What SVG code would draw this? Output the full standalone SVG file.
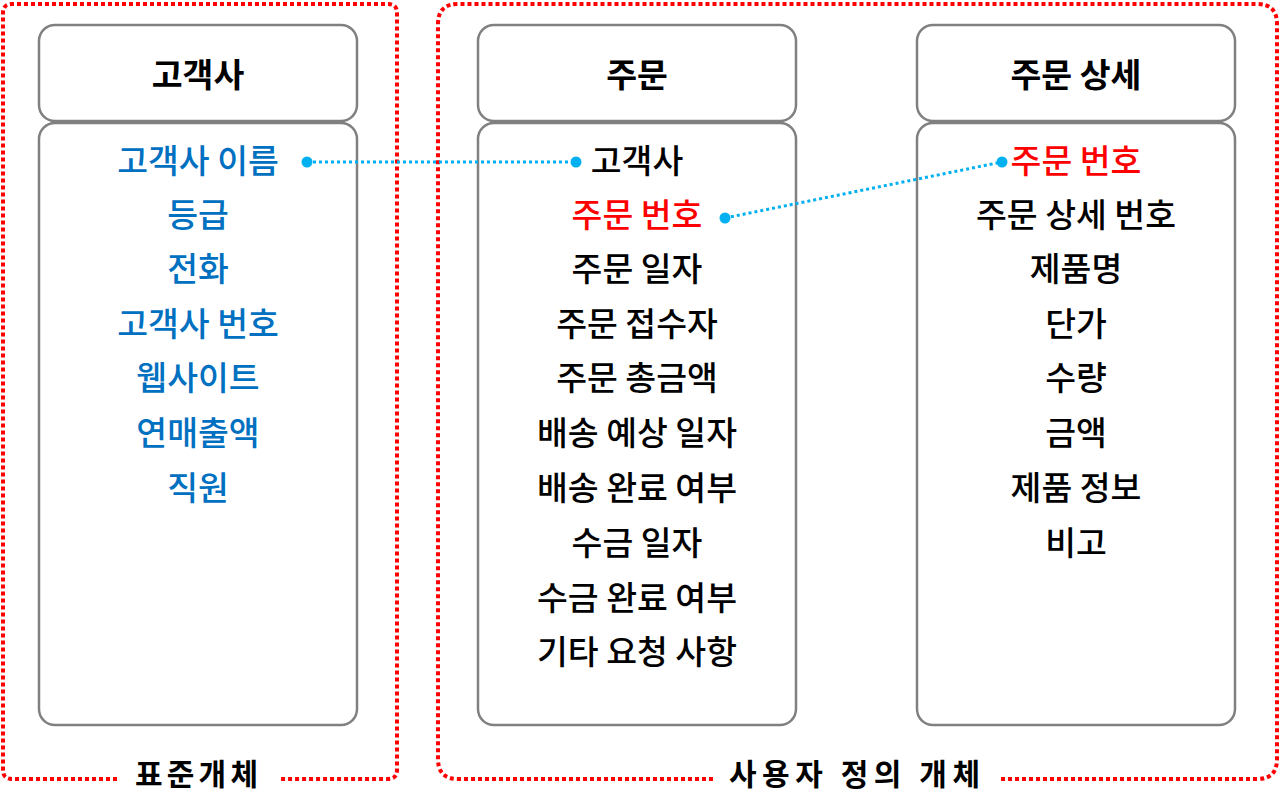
<svg xmlns="http://www.w3.org/2000/svg" width="1280" height="811" viewBox="0 0 1280 811">
<style>
.grp{fill:none;stroke:#ff0000;stroke-width:4;stroke-dasharray:4 3}
.box{fill:#fff;stroke:#808080;stroke-width:2.5}
.t{font-family:"Noto Sans CJK KR","Noto Sans",sans-serif;font-size:33.5px;font-weight:500;text-anchor:middle;dominant-baseline:central}
.h{font-weight:bold;font-size:33.5px}
.k{fill:#000}
.b{fill:#0070c0}
.r{fill:#ff0000}
.lbl{font-family:"Noto Sans CJK KR",sans-serif;font-weight:bold;font-size:30px;fill:#000;dominant-baseline:central}
.con{stroke:#00b0f0;stroke-width:3;stroke-dasharray:3 3;fill:none}
.dot{fill:#00b0f0}
</style>
<rect width="1280" height="811" fill="#fff"/>
<g id="group-standard">
<path class="grp" d="M117 779 H12 Q3 779 3 770 V13 Q3 4 12 4 H388 Q397 4 397 13 V770 Q397 779 388 779 H280"/>
<text class="lbl" x="135" y="772" textLength="123" lengthAdjust="spacing">표준개체</text>
</g>
<g id="group-custom">
<path class="grp" d="M713 779 H458 Q438 779 438 759 V24 Q438 4 458 4 H1257 Q1277 4 1277 24 V759 Q1277 779 1257 779 H1000"/>
<text class="lbl" x="729" y="772" textLength="251" lengthAdjust="spacing">사용자 정의 개체</text>
</g>
<g id="node-customer">
<rect class="box" x="39" y="25" width="318" height="96" rx="16"/>
<text class="t h k" x="198" y="72">고객사</text>
<rect class="box" x="39" y="123" width="318" height="602" rx="16"/>
<text class="t b" x="198" y="158">고객사 이름</text>
<text class="t b" x="198" y="212">등급</text>
<text class="t b" x="198" y="266">전화</text>
<text class="t b" x="198" y="321">고객사 번호</text>
<text class="t b" x="198" y="375">웹사이트</text>
<text class="t b" x="198" y="430">연매출액</text>
<text class="t b" x="198" y="485">직원</text>
</g>
<g id="node-order">
<rect class="box" x="478" y="25" width="318" height="96" rx="16"/>
<text class="t h k" x="637" y="72">주문</text>
<rect class="box" x="478" y="123" width="318" height="602" rx="16"/>
<text class="t k" x="637" y="158">고객사</text>
<text class="t r" x="637" y="212">주문 번호</text>
<text class="t k" x="637" y="266">주문 일자</text>
<text class="t k" x="637" y="321">주문 접수자</text>
<text class="t k" x="637" y="375">주문 총금액</text>
<text class="t k" x="637" y="430">배송 예상 일자</text>
<text class="t k" x="637" y="485">배송 완료 여부</text>
<text class="t k" x="637" y="540">수금 일자</text>
<text class="t k" x="637" y="595">수금 완료 여부</text>
<text class="t k" x="637" y="649">기타 요청 사항</text>
</g>
<g id="node-order-detail">
<rect class="box" x="917" y="25" width="318" height="96" rx="16"/>
<text class="t h k" x="1076" y="72">주문 상세</text>
<rect class="box" x="917" y="123" width="318" height="602" rx="16"/>
<text class="t r" x="1076" y="158">주문 번호</text>
<text class="t k" x="1076" y="212">주문 상세 번호</text>
<text class="t k" x="1076" y="266">제품명</text>
<text class="t k" x="1076" y="321">단가</text>
<text class="t k" x="1076" y="375">수량</text>
<text class="t k" x="1076" y="430">금액</text>
<text class="t k" x="1076" y="485">제품 정보</text>
<text class="t k" x="1076" y="540">비고</text>
</g>
<g id="connectors">
<line class="con" x1="307" y1="162" x2="576" y2="162"/>
<circle class="dot" cx="307" cy="162" r="5.5"/>
<circle class="dot" cx="576" cy="162" r="5.5"/>
<line class="con" x1="725" y1="218" x2="1002" y2="162"/>
<circle class="dot" cx="725" cy="218" r="5.5"/>
<circle class="dot" cx="1002" cy="162" r="5.5"/>
</g>
</svg>
